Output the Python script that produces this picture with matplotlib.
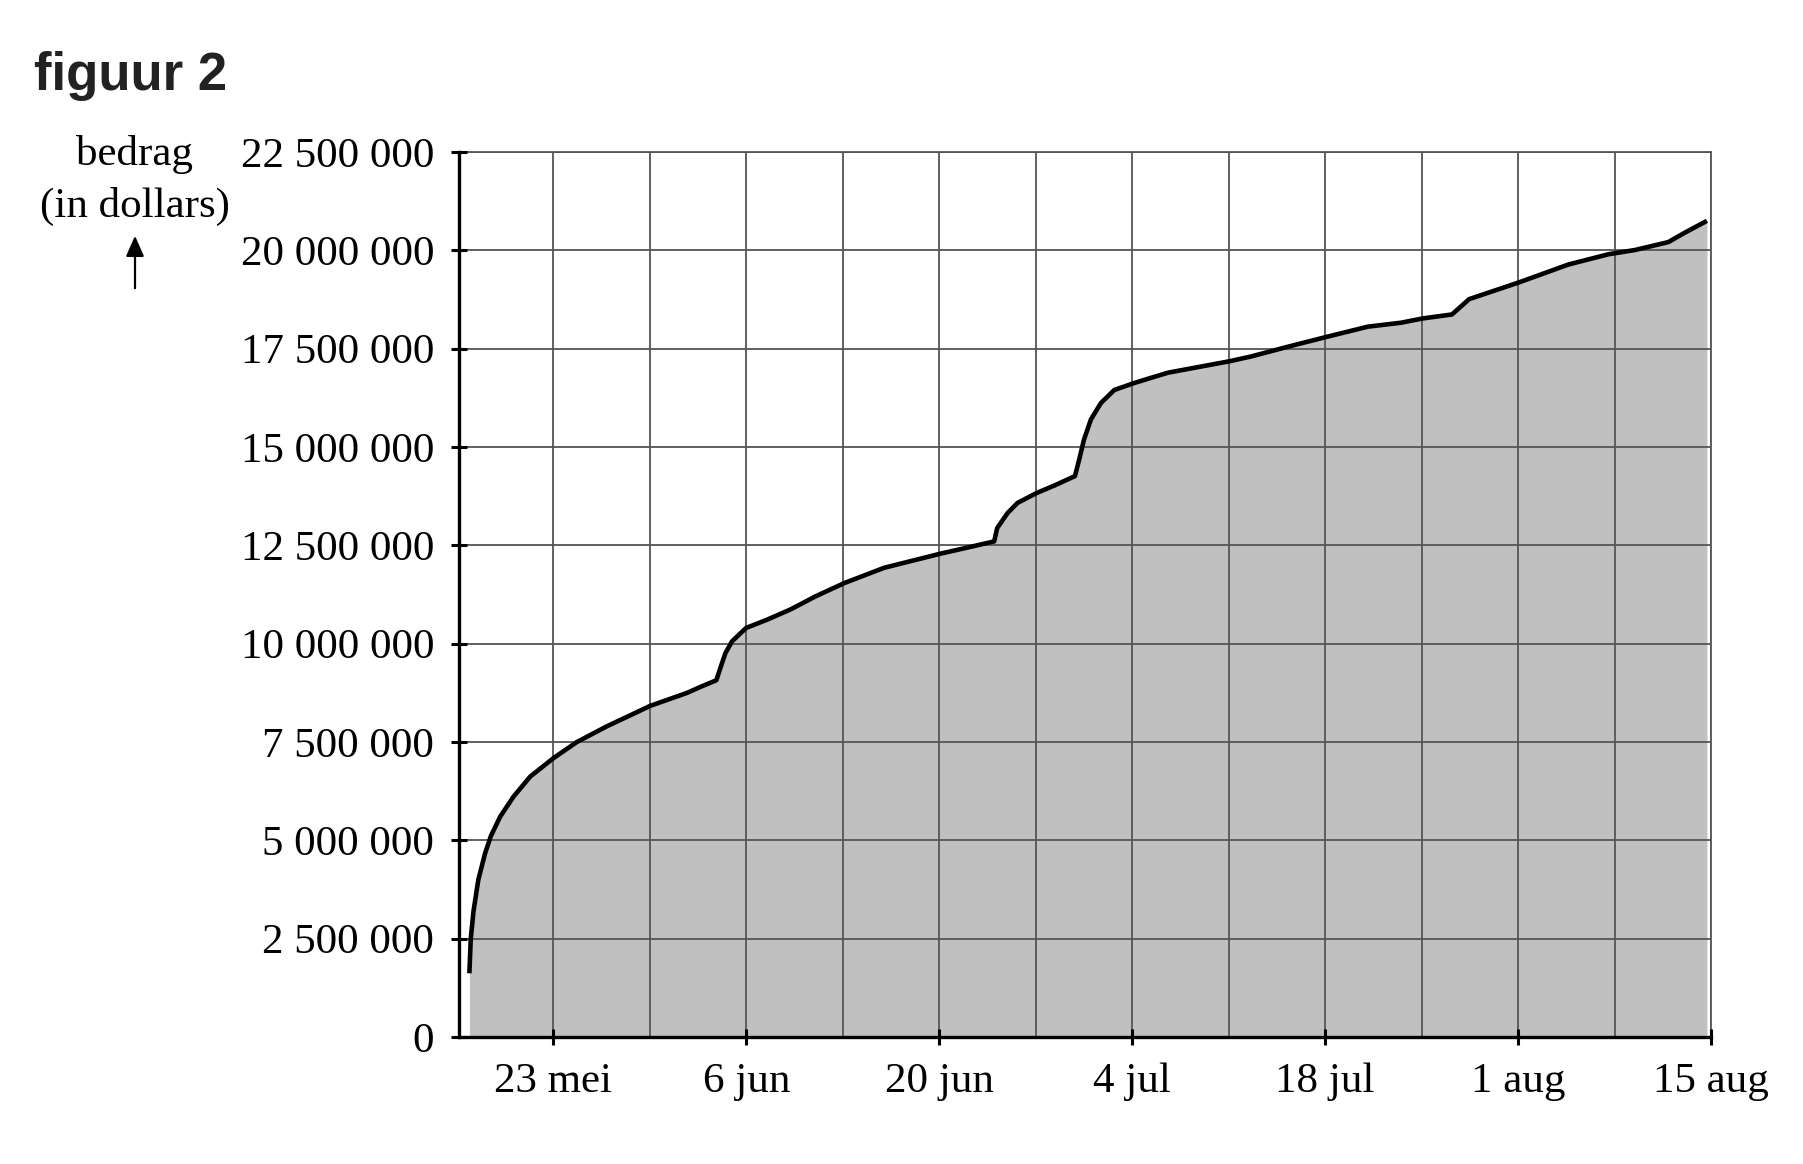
import matplotlib
matplotlib.use('Agg')
import matplotlib.pyplot as plt
from matplotlib.ticker import FixedLocator

dagen = [-6.1, -6.0, -5.8, -5.45, -4.96, -4.55, -3.87, -2.9, -1.69, 0.0, 1.7,
         3.88, 7.03, 9.7, 10.66, 11.82, 12.11, 12.48, 12.96, 13.98, 15.5, 17.2,
         19.0, 21.1, 24.0, 28.1, 30.0, 31.98, 32.2, 32.95, 33.68, 35.06, 36.34,
         37.84, 38.15, 38.5, 39.0, 39.73, 40.7, 42.08, 43.37, 44.6, 49.05, 50.6,
         53.3, 56.1, 59.1, 61.5, 63.1, 65.2, 66.45, 70.1, 73.65, 76.55, 78.5,
         80.9, 82.1, 83.7]
bedrag = [1.62, 2.5, 3.2, 4.0, 4.67, 5.1, 5.6, 6.11, 6.62, 7.09, 7.5,
          7.9, 8.42, 8.75, 8.90, 9.07, 9.38, 9.76, 10.06, 10.40, 10.61, 10.87,
          11.2, 11.54, 11.93, 12.29, 12.44, 12.60, 12.94, 13.32, 13.58, 13.83, 14.02,
          14.26, 14.68, 15.19, 15.7, 16.12, 16.45, 16.62, 16.76, 16.89, 17.18, 17.30,
          17.55, 17.80, 18.06, 18.16, 18.27, 18.37, 18.76, 19.19, 19.64, 19.90, 20.01,
          20.21, 20.45, 20.75]

x_ticks = [0, 14, 28, 42, 56, 70, 84]
x_labels = ['23 mei', '6 jun', '20 jun', '4 jul', '18 jul', '1 aug', '15 aug']
x_grid = [7, 21, 35, 49, 63, 77]
y_ticks = [0, 2500000, 5000000, 7500000, 10000000, 12500000,
           15000000, 17500000, 20000000, 22500000]

serif = 'Liberation Serif'

fig = plt.figure(figsize=(18.03, 11.64), dpi=100)
ax = fig.add_axes([0.2546, 0.1091, 0.949 - 0.2546, 0.8694 - 0.1091])

waarden = [b * 1e6 for b in bedrag]
ax.fill_between(dagen, 0, waarden, color='#c0c0c0', lw=0, zorder=1)
ax.plot(dagen, waarden, color='black', lw=3.3, solid_joinstyle='round',
        solid_capstyle='butt', zorder=4)

ax.set_xlim(-6.85, 84)
ax.set_ylim(0, 22500000)

ax.xaxis.set_major_locator(FixedLocator(x_ticks))
ax.xaxis.set_minor_locator(FixedLocator(x_grid))
ax.set_xticklabels(x_labels)
ax.set_yticks(y_ticks)
ax.set_yticklabels(['{:,}'.format(v).replace(',', ' ') for v in y_ticks])

ax.grid(True, which='both', color='#555555', lw=1.3, zorder=2)
ax.set_axisbelow(False)
for gl in ax.get_xgridlines() + ax.get_ygridlines():
    gl.set_zorder(2)

ax.tick_params(axis='both', which='major', direction='inout', length=12,
               width=2.2, color='black', labelsize=31, pad=12)
ax.tick_params(axis='x', which='minor', length=0)
ax.tick_params(axis='y', pad=12)
for lab in ax.get_xticklabels() + ax.get_yticklabels():
    lab.set_family(serif)

for side in ['left', 'bottom']:
    ax.spines[side].set_linewidth(2.4)
    ax.spines[side].set_color('black')
    ax.spines[side].set_zorder(5)
for side in ['top', 'right']:
    ax.spines[side].set_linewidth(1.3)
    ax.spines[side].set_color('#555555')

fig.text(0.019, 0.9227, 'figuur 2', family='Liberation Sans', weight='bold',
         fontsize=38, color='#222222', va='baseline', ha='left')
fig.text(135 / 1803, 1 - 155 / 1164, 'bedrag', family=serif, fontsize=31,
         ha='center', va='center')
fig.text(135 / 1803, 1 - 206 / 1164, '(in dollars)', family=serif, fontsize=31,
         ha='center', va='center')
fig.add_artist(matplotlib.patches.FancyArrowPatch(
    (135 / 1803, 1 - 291 / 1164), (135 / 1803, 1 - 233 / 1164),
    transform=fig.transFigure, arrowstyle='-|>,head_length=5,head_width=2.2',
    color='black', lw=1.6, mutation_scale=2.5))

fig.savefig('out.png', dpi=100)
